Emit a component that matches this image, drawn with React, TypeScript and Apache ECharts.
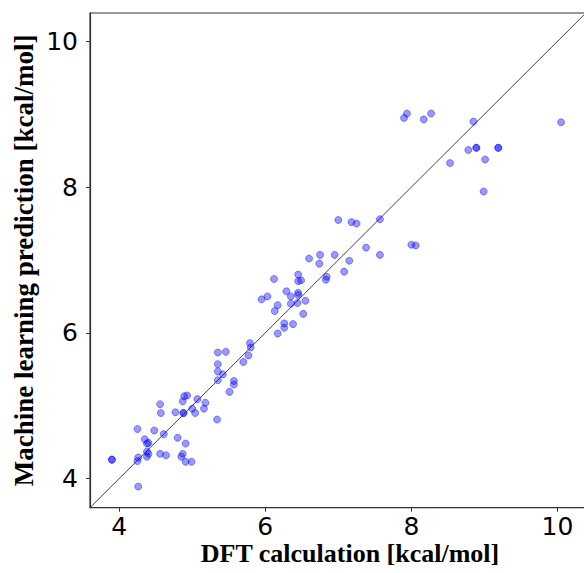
import React, { useEffect, useRef } from "react";
import * as echarts from "echarts";

// DFT calculation values (x) and machine learning predictions (y), kcal/mol
const dftValues: number[] = [
  3.90, 3.90, 4.26, 4.26, 4.25, 4.25, 4.35, 4.38, 4.40, 4.38, 4.40, 4.38,
  4.48, 4.56, 4.64, 4.61, 4.56, 4.57, 4.77, 4.80, 4.87, 4.85, 4.91, 4.91,
  4.99, 4.88, 4.88, 4.87, 4.89, 4.93, 5.00, 5.04, 5.07, 5.16, 5.18, 5.34,
  5.51, 5.57, 5.57, 5.35, 5.35, 5.42, 5.35, 5.35, 5.46, 5.70, 5.77, 5.79,
  5.80, 6.17, 6.26, 6.26, 6.38, 6.52, 6.13, 6.17, 5.95, 6.03, 6.35, 6.44,
  6.55, 6.29, 6.35, 6.45, 6.45, 6.12, 6.45, 6.45, 6.49, 6.84, 6.83, 7.08,
  6.60, 6.75, 6.74, 6.95, 7.15, 7.38, 7.57, 7.00, 7.18, 7.25, 7.57, 8.00,
  8.06, 8.53, 8.78, 8.89, 8.89, 9.19, 9.19, 9.01, 8.99, 7.90, 7.94, 8.17,
  8.27, 8.85, 10.05,
];
const mlValues: number[] = [
  4.26, 4.26, 3.89, 4.29, 4.24, 4.68, 4.54, 4.48, 4.49, 4.37, 4.34, 4.30,
  4.66, 4.34, 4.32, 4.61, 5.02, 4.90, 4.91, 4.56, 4.34, 4.30, 4.48, 4.23,
  4.23, 4.90, 4.90, 5.06, 5.13, 5.14, 4.96, 4.90, 5.09, 4.96, 5.04, 4.81,
  5.19, 5.34, 5.29, 5.35, 5.47, 5.43, 5.57, 5.73, 5.74, 5.60, 5.69, 5.86,
  5.80, 5.99, 6.13, 6.07, 6.12, 6.26, 6.30, 6.38, 6.46, 6.50, 6.40, 6.41,
  6.44, 6.57, 6.50, 6.55, 6.52, 6.74, 6.80, 6.71, 6.72, 6.77, 6.73, 6.84,
  7.02, 7.07, 6.95, 7.07, 6.99, 7.17, 7.07, 7.55, 7.52, 7.50, 7.56, 7.21,
  7.20, 8.33, 8.51, 8.54, 8.54, 8.54, 8.54, 8.38, 7.94, 8.95, 9.01, 8.93,
  9.01, 8.90, 8.89,
];
const tickValues: number[] = [4, 6, 8, 10];
const identityLine: number[] = [3.6, 10.4];
const xRange: number[] = [3.6, 10.72];
const yRange: number[] = [3.6, 10.39];

export default function App() {
  const ref = useRef<HTMLDivElement>(null);
  useEffect(() => {
    if (!ref.current) return;
    const chart = echarts.init(ref.current, undefined, { renderer: "svg" });
    const points = dftValues.map((x, i) => [x, mlValues[i]]);
    const axisCommon = {
      type: "value" as const,
      splitLine: { show: false },
      axisLine: { show: true, lineStyle: { color: "#333", width: 1.2 } },
      axisTick: {
        show: true,
        inside: false,
        length: 4,
        customValues: tickValues,
        lineStyle: { color: "#333", width: 1 },
      },
      nameLocation: "middle" as const,
      nameMoveOverlap: false,
    };
    const nameStyle = {
      fontFamily: "Liberation Serif",
      fontWeight: "bold" as const,
      color: "#000",
    };
    const labelCommon = {
      customValues: tickValues,
      color: "#000",
      fontFamily: "DejaVu Sans",
      fontSize: 25,
      lineHeight: 24,
    };
    chart.setOption({
      animation: false,
      backgroundColor: "#fff",
      grid: {
        left: 90,
        top: 13,
        width: 520,
        height: 494.7,
        show: true,
        borderColor: "#333",
        borderWidth: 1.2,
        backgroundColor: "transparent",
        outerBoundsMode: "none",
      },
      xAxis: {
        ...axisCommon,
        min: xRange[0],
        max: xRange[1],
        axisLabel: { ...labelCommon, margin: 7 },
        name: "DFT calculation [kcal/mol]",
        nameGap: 33,
        nameTextStyle: { ...nameStyle, fontSize: 26, lineHeight: 26 },
      },
      yAxis: {
        ...axisCommon,
        min: yRange[0],
        max: yRange[1],
        axisLabel: { ...labelCommon, margin: 12 },
        name: "Machine learning prediction [kcal/mol]",
        nameGap: 52,
        nameRotate: 90,
        nameTextStyle: { ...nameStyle, fontSize: 27, lineHeight: 28 },
      },
      series: [
        {
          type: "line",
          data: identityLine.map((v) => [v, v]),
          showSymbol: false,
          symbol: "none",
          lineStyle: { color: "#444", width: 1 },
          z: 1,
          silent: true,
        },
        {
          type: "scatter",
          data: points,
          symbolSize: 7,
          itemStyle: {
            color: "rgba(0,0,255,0.5)",
            borderColor: "rgba(0,0,255,0.5)",
            borderWidth: 1,
          },
          z: 2,
        },
      ],
    });
    return () => chart.dispose();
  }, []);
  return (
    <div
      ref={ref}
      style={{ position: "fixed", left: 0, top: 0, width: 640, height: 573 }}
    />
  );
}
